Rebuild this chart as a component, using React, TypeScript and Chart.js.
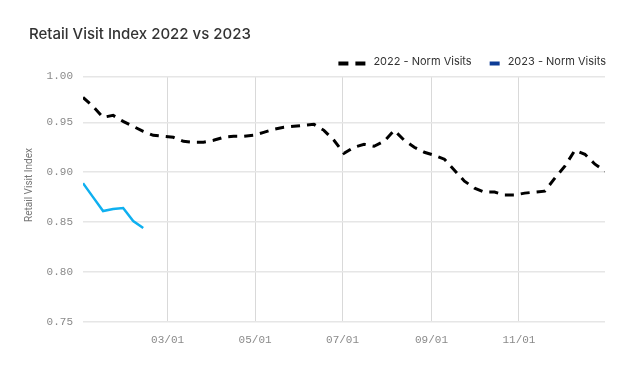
import React, { useEffect, useRef } from "react";
import { Chart, registerables } from "chart.js";

Chart.register(...registerables);

const TITLE = "Retail Visit Index 2022 vs 2023";
const Y_TITLE = "Retail Visit Index";
const LABEL_2022 = "2022 - Norm Visits";
const LABEL_2023 = "2023 - Norm Visits";

// weekly values (one per week, starting Jan 1)
const values2022 = [
  0.975, 0.966, 0.955, 0.957, 0.951, 0.946, 0.941, 0.937, 0.936, 0.935,
  0.931, 0.930, 0.930, 0.932, 0.935, 0.936, 0.936, 0.937, 0.940, 0.943,
  0.945, 0.946, 0.947, 0.948, 0.942, 0.932, 0.919, 0.925, 0.928, 0.926,
  0.931, 0.942, 0.932, 0.925, 0.920, 0.917, 0.913, 0.902, 0.891, 0.884,
  0.880, 0.880, 0.877, 0.877, 0.879, 0.880, 0.881, 0.894, 0.906, 0.922,
  0.918, 0.908, 0.901,
];
const values2023 = [0.889, 0.875, 0.861, 0.863, 0.864, 0.851, 0.844];

const WEEK_DAYS = 7;
const YEAR_LAST_DAY = 364;
const tickDays = [59, 120, 181, 243, 304];
const tickLabels = ["03/01", "05/01", "07/01", "09/01", "11/01"];
const yTickValues = [0.75, 0.8, 0.85, 0.9, 0.95, 0.996];

const COLOR_2022 = "#000000";
const COLOR_2023 = "#0fb0f0";
const COLOR_2023_LEGEND = "#0d3c96";

const toPoints = (vals: number[]) => vals.map((v, i) => ({ x: i * WEEK_DAYS, y: v }));

const decorPlugin = {
  id: "decor",
  afterDraw(chart: any) {
    const { ctx, chartArea } = chart;
    ctx.save();
    // title
    ctx.font = "500 15px Inter";
    ctx.fillStyle = "#333333";
    ctx.textAlign = "left";
    ctx.textBaseline = "alphabetic";
    ctx.fillText(TITLE, 29, 38.5);

    // y axis title
    ctx.save();
    ctx.translate(31.5, 185);
    ctx.rotate(-Math.PI / 2);
    ctx.font = "10px Roboto";
    ctx.fillStyle = "#777777";
    ctx.textAlign = "center";
    ctx.textBaseline = "alphabetic";
    ctx.fillText(Y_TITLE, 0, 0);
    ctx.restore();

    // legend
    ctx.font = "11px Inter";
    ctx.textBaseline = "middle";
    ctx.textAlign = "left";
    const ly = 61.5;
    const w2 = ctx.measureText(LABEL_2023).width;
    const w1 = ctx.measureText(LABEL_2022).width;
    const t2 = chartArea.right + 1 - w2;
    const i2r = t2 - 8;
    const i2l = i2r - 10;
    const t1 = i2l - 18 - w1;
    const i1r = t1 - 8;
    const i1l = i1r - 27;
    ctx.fillStyle = "#333333";
    ctx.fillText(LABEL_2023, t2, ly);
    ctx.fillText(LABEL_2022, t1, ly);
    ctx.lineWidth = 4;
    ctx.strokeStyle = COLOR_2023_LEGEND;
    ctx.beginPath();
    ctx.moveTo(i2l, ly + 2);
    ctx.lineTo(i2r, ly + 2);
    ctx.stroke();
    ctx.strokeStyle = COLOR_2022;
    ctx.setLineDash([10, 7]);
    ctx.beginPath();
    ctx.moveTo(i1l, ly + 2);
    ctx.lineTo(i1r, ly + 2);
    ctx.stroke();
    ctx.restore();
  },
};

export default function App() {
  const ref = useRef<HTMLCanvasElement | null>(null);
  useEffect(() => {
    document.body.style.margin = "0";
    const canvas = ref.current;
    if (!canvas) return;
    const chart = new Chart(canvas, {
      type: "line",
      data: {
        datasets: [
          {
            label: LABEL_2022,
            data: toPoints(values2022),
            borderColor: COLOR_2022,
            backgroundColor: COLOR_2022,
            borderWidth: 3,
            borderDash: [9, 7],
            pointRadius: 0,
            tension: 0,
          },
          {
            label: LABEL_2023,
            data: toPoints(values2023),
            borderColor: COLOR_2023,
            backgroundColor: COLOR_2023_LEGEND,
            borderWidth: 2.5,
            pointRadius: 0,
            tension: 0,
          },
        ],
      },
      options: {
        animation: false,
        responsive: false,
        devicePixelRatio: 1,
        layout: { padding: { top: 76.5, right: 35, left: 0, bottom: 0 } },
        plugins: {
          legend: { display: false },
          title: { display: false },
          tooltip: { enabled: false },
        },
        scales: {
          x: {
            type: "linear",
            min: 0,
            max: YEAR_LAST_DAY,
            afterBuildTicks: (scale: any) => {
              scale.ticks = tickDays.map((d) => ({ value: d }));
            },
            afterFit: (scale: any) => {
              scale.height = 50.3;
            },
            ticks: {
              autoSkip: false,
              maxRotation: 0,
              padding: 12,
              color: "#8a8a8a",
              font: { family: "Liberation Mono", size: 11 },
              callback: (v: any) => {
                const idx = tickDays.indexOf(Number(v));
                return idx >= 0 ? tickLabels[idx] : "";
              },
            },
            grid: { color: "#d9d9d9", lineWidth: 1, drawTicks: false },
            border: { display: false },
          },
          y: {
            type: "linear",
            min: 0.75,
            max: 0.996,
            afterBuildTicks: (scale: any) => {
              scale.ticks = yTickValues.map((v) => ({ value: v }));
            },
            afterFit: (scale: any) => {
              scale.width = 83;
            },
            ticks: {
              padding: 10,
              color: "#8a8a8a",
              font: { family: "Liberation Mono", size: 11 },
              callback: (v: any) => Number(v).toFixed(2),
            },
            grid: { color: "#e6e6e6", lineWidth: 1.5, drawTicks: false },
            border: { display: false },
          },
        },
      },
      plugins: [decorPlugin],
    } as any);
    return () => chart.destroy();
  }, []);
  return (
    <div style={{ width: 640, height: 372, background: "#ffffff" }}>
      <canvas ref={ref} width={640} height={372} style={{ display: "block" }} />
    </div>
  );
}
